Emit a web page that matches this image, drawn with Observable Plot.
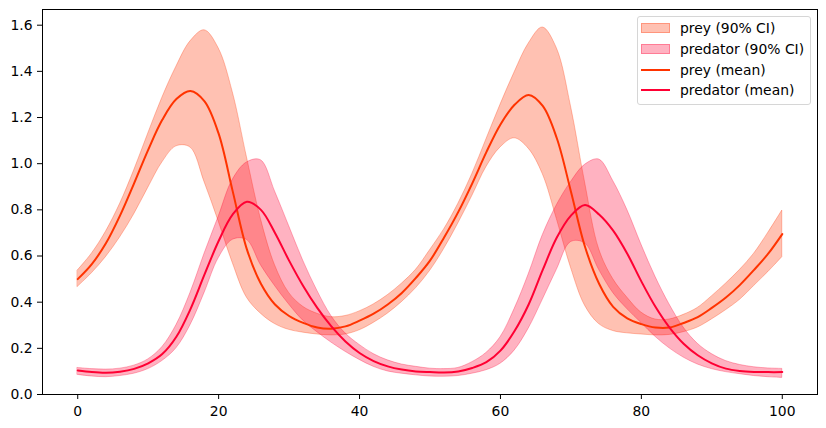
<!DOCTYPE html>
<html>
<head>
<meta charset="utf-8">
<script src="https://cdn.jsdelivr.net/npm/d3@7"></script>
<script src="https://cdn.jsdelivr.net/npm/@observablehq/plot@0.6"></script>
<style>
  body { margin: 0; background: #fff; }
  #wrap { position: relative; width: 826px; height: 428px; font-family: "DejaVu Sans", sans-serif; }
  .legend { position: absolute; left: 637px; top: 16px; width: 174px; height: 89px; box-sizing: border-box;
            border: 1px solid #d6d6d6; border-radius: 3px; background: rgba(255,255,255,0.8); }
  .sw { position: absolute; left: 3px; width: 29px; height: 10px; box-sizing: border-box; }
  .ln { position: absolute; left: 3px; width: 29px; height: 2px; }
  .lt { position: absolute; left: 42px; font-size: 13.9px; line-height: 16px; color: #000; white-space: nowrap; }
</style>
</head>
<body>
<div id="wrap"></div>
<script>
// time grid
const t = [0,2,4,6,8,10,12,14,16,18,20,22,24,26,28,30,32,34,36,38,40,42,44,46,48,50,
           52,54,56,58,60,62,64,66,68,70,72,74,76,78,80,82,84,86,88,90,92,94,96,98,100];

const preyMean = [0.50,0.565,0.655,0.775,0.915,1.06,1.19,1.28,1.315,1.27,1.13,0.88,0.63,0.48,0.39,0.34,0.31,0.29,0.285,0.295,
                  0.32,0.35,0.39,0.44,0.505,0.58,0.68,0.79,0.915,1.05,1.17,1.255,1.298,1.25,1.11,0.88,0.64,0.48,0.38,0.33,
                  0.305,0.29,0.29,0.31,0.335,0.375,0.42,0.475,0.54,0.61,0.695];
const preyLo = [0.466,0.525,0.595,0.68,0.78,0.895,1.005,1.075,1.07,0.92,0.75,0.57,0.42,0.35,0.305,0.28,0.268,0.26,0.256,0.26,
                0.278,0.31,0.35,0.40,0.46,0.535,0.63,0.74,0.86,0.985,1.07,1.11,1.065,0.955,0.76,0.55,0.385,0.305,0.275,0.265,
                0.26,0.256,0.258,0.27,0.29,0.325,0.365,0.41,0.47,0.53,0.595];
const preyHi = [0.537,0.61,0.705,0.825,0.97,1.13,1.285,1.42,1.53,1.578,1.50,1.31,1.03,0.76,0.56,0.44,0.38,0.35,0.335,0.34,
                0.36,0.39,0.43,0.48,0.54,0.625,0.715,0.825,0.955,1.105,1.255,1.395,1.52,1.59,1.50,1.25,0.92,0.63,0.50,0.42,
                0.355,0.325,0.325,0.345,0.375,0.425,0.48,0.54,0.61,0.70,0.797];

const predMean = [0.104,0.097,0.094,0.099,0.111,0.135,0.175,0.25,0.37,0.52,0.665,0.78,0.835,0.80,0.70,0.58,0.47,0.375,0.295,0.23,
                  0.18,0.145,0.122,0.108,0.10,0.097,0.095,0.10,0.115,0.14,0.19,0.275,0.39,0.54,0.68,0.775,0.821,0.78,0.71,0.61,
                  0.49,0.38,0.29,0.22,0.17,0.135,0.112,0.102,0.098,0.097,0.097];
const predLo = [0.085,0.078,0.075,0.08,0.09,0.11,0.145,0.20,0.30,0.44,0.59,0.67,0.67,0.56,0.47,0.39,0.32,0.27,0.225,0.185,
                0.15,0.12,0.10,0.09,0.083,0.078,0.077,0.08,0.09,0.105,0.133,0.19,0.285,0.41,0.54,0.66,0.655,0.54,0.44,0.37,
                0.31,0.25,0.20,0.16,0.13,0.11,0.097,0.088,0.08,0.075,0.072];
const predHi = [0.115,0.11,0.108,0.112,0.125,0.152,0.205,0.30,0.44,0.61,0.77,0.93,1.005,1.015,0.88,0.73,0.58,0.45,0.34,0.265,
                0.215,0.175,0.148,0.13,0.12,0.112,0.11,0.115,0.14,0.18,0.248,0.37,0.52,0.69,0.82,0.92,0.995,1.018,0.925,0.80,
                0.65,0.51,0.39,0.29,0.22,0.175,0.145,0.128,0.118,0.113,0.111];

const xTicks = [0, 20, 40, 60, 80, 100];
const yTicks = [0.0, 0.2, 0.4, 0.6, 0.8, 1.0, 1.2, 1.4, 1.6];

const legendLabels = ["prey (90% CI)", "predator (90% CI)", "prey (mean)", "predator (mean)"];
const preyColor = "#ff3300";
const predColor = "#ff0033";

const data = t.map((tt, i) => ({
  t: tt, preyMean: preyMean[i], preyLo: preyLo[i], preyHi: preyHi[i],
  predMean: predMean[i], predLo: predLo[i], predHi: predHi[i]
}));

const curve = "catmull-rom";

const chart = Plot.plot({
  width: 826, height: 428,
  marginLeft: 42, marginRight: 9, marginTop: 9, marginBottom: 34,
  style: { fontFamily: "DejaVu Sans, sans-serif", fontSize: "13.9px", color: "#000", background: "#fff", overflow: "visible" },
  x: { domain: [-5, 105] },
  y: { domain: [0, 1.668] },
  marks: [
    Plot.areaY(data, { x: "t", y1: "preyLo", y2: "preyHi", fill: preyColor, fillOpacity: 0.3,
                       stroke: preyColor, strokeOpacity: 0.3, strokeWidth: 1, curve }),
    Plot.areaY(data, { x: "t", y1: "predLo", y2: "predHi", fill: predColor, fillOpacity: 0.3,
                       stroke: predColor, strokeOpacity: 0.3, strokeWidth: 1, curve }),
    Plot.lineY(data, { x: "t", y: "preyMean", stroke: preyColor, strokeWidth: 2, curve }),
    Plot.lineY(data, { x: "t", y: "predMean", stroke: predColor, strokeWidth: 2, curve }),
    Plot.axisX({ ticks: xTicks, tickSize: 5, tickPadding: 7, label: null, tickFormat: d => String(d) }),
    Plot.axisY({ ticks: yTicks, tickSize: 5, tickPadding: 5, label: null, tickFormat: d3.format(".1f") }),
    Plot.frame({ stroke: "#000", strokeWidth: 1 })
  ]
});

const wrap = document.getElementById("wrap");
wrap.appendChild(chart);

// legend (matplotlib-style box, upper right)
const leg = document.createElement("div");
leg.className = "legend";
const kinds = [
  { type: "band", color: preyColor },
  { type: "band", color: predColor },
  { type: "line", color: preyColor },
  { type: "line", color: predColor }
];
legendLabels.forEach((lab, i) => {
  const cy = 11.3 + 20.7 * i;
  const k = kinds[i];
  const s = document.createElement("div");
  if (k.type === "band") {
    s.className = "sw";
    s.style.top = (cy - 5) + "px";
    const rgba = k.color === preyColor ? "rgba(255,51,0,0.3)" : "rgba(255,0,51,0.3)";
    s.style.background = rgba;
    s.style.border = "1px solid " + rgba;
  } else {
    s.className = "ln";
    s.style.top = (cy - 1) + "px";
    s.style.background = k.color;
  }
  leg.appendChild(s);
  const tx = document.createElement("div");
  tx.className = "lt";
  tx.style.top = (cy - 8) + "px";
  tx.textContent = lab;
  leg.appendChild(tx);
});
wrap.appendChild(leg);
</script>
</body>
</html>
